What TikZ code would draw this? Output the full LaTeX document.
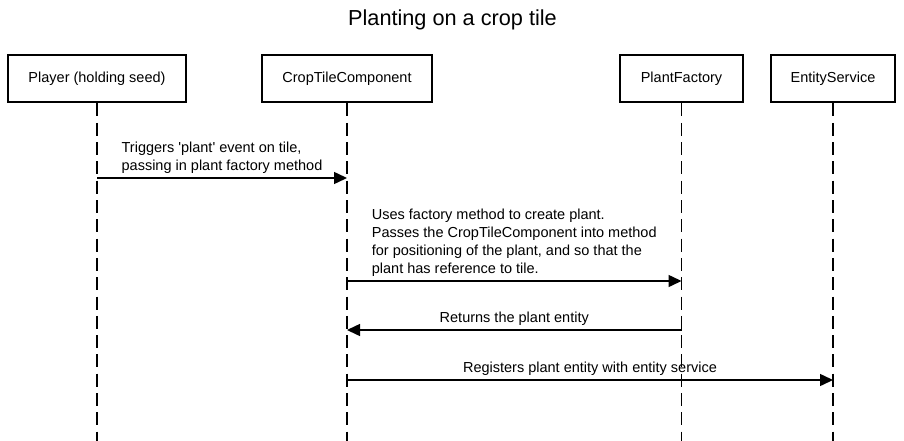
\documentclass[tikz,border=0pt]{standalone}
\usepackage{fontspec}
\setmainfont{Liberation Sans}
\newfontfamily\lsans{Liberation Sans}
\usetikzlibrary{arrows.meta}
\begin{document}
\begin{tikzpicture}[x=1pt,y=-1pt,
  actor/.style={draw, fill=white, line width=2pt, minimum height=47pt, inner sep=0pt, font=\lsans\fontsize{14.5}{18}\selectfont},
  life/.style={line width=1.3pt, dash pattern=on 13pt off 6.3pt},
  msg/.style={line width=1.5pt, -{Triangle[length=13pt,width=12pt]}},
  lbl/.style={font=\lsans\fontsize{14.5}{18}\selectfont, align=left, inner sep=0pt, anchor=south, yshift=4pt}]
\useasboundingbox (0,0) rectangle (904,441);
\node[font=\lsans\fontsize{21.7}{26}\selectfont, anchor=base, inner sep=0pt] (title) at (452.5,26) {Planting on a crop tile};
\node[actor, minimum width=178pt] (player) at (97,79) {Player (holding seed)};
\node[actor, minimum width=170pt] (crop) at (347,79) {CropTileComponent};
\node[actor, minimum width=123pt] (factory) at (681.5,79) {PlantFactory};
\node[actor, minimum width=124pt] (entity) at (833,79) {EntityService};
\coordinate (bot) at (0,441);
\draw[life] (player.south) -- (player.south |- bot);
\draw[life] (crop.south) -- (crop.south |- bot);
\draw[life] (factory.south) -- (factory.south |- bot);
\draw[life] (entity.south) -- (entity.south |- bot);
\coordinate (y1) at (0,178);
\coordinate (y2) at (0,281);
\coordinate (y3) at (0,330);
\coordinate (y4) at (0,380);
\draw[msg] (player.south |- y1) -- (crop.south |- y1)
  node[lbl, midway] (l1) {Triggers 'plant' event on tile,\\passing in plant factory method};
\draw[msg] (crop.south |- y2) -- (factory.south |- y2)
  node[lbl, midway] (l2) {Uses factory method to create plant.\\Passes the CropTileComponent into method\\for positioning of the plant, and so that the\\plant has reference to tile.};
\draw[msg] (factory.south |- y3) -- (crop.south |- y3)
  node[lbl, midway] (l3) {Returns the plant entity};
\draw[msg] (crop.south |- y4) -- (entity.south |- y4)
  node[lbl, midway] (l4) {Registers plant entity with entity service};
\end{tikzpicture}
\end{document}
